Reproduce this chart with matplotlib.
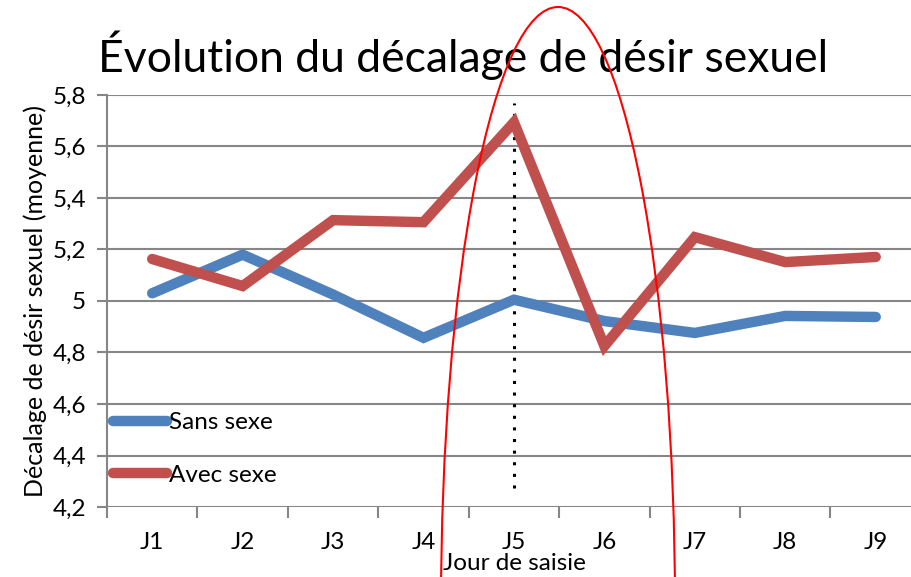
import matplotlib.pyplot as plt
from matplotlib.patches import Ellipse

# Données
jours = ['J1', 'J2', 'J3', 'J4', 'J5', 'J6', 'J7', 'J8', 'J9']
sans_sexe = [5.03, 5.18, 5.025, 4.857, 5.005, 4.922, 4.876, 4.942, 4.938]
avec_sexe = [5.163, 5.058, 5.314, 5.306, 5.694, 4.825, 5.248, 5.151, 5.171]
y_ticks = [4.2, 4.4, 4.6, 4.8, 5.0, 5.2, 5.4, 5.6, 5.8]
y_labels = ['4,2', '4,4', '4,6', '4,8', '5', '5,2', '5,4', '5,6', '5,8']
jour_repere = 5
repere_bas, repere_haut = 4.275, 5.77

plt.rcParams['font.family'] = ['Lato', 'DejaVu Sans']

bleu = '#4F81BD'
rouge = '#C0504D'
gris = '#868686'
taille = 17.5

fig = plt.figure(figsize=(9.12, 5.77), dpi=100)
ax = fig.add_axes([0.1173, 0.1213, 0.8925, 0.7141])

x = list(range(1, len(jours) + 1))
ax.plot(x, sans_sexe, color=bleu, lw=7.5, solid_capstyle='round',
        solid_joinstyle='miter', label='Sans sexe', zorder=3)
ax.plot(x, avec_sexe, color=rouge, lw=7.5, solid_capstyle='round',
        solid_joinstyle='miter', label='Avec sexe', zorder=3)

# Repère vertical pointillé sur J5
ax.plot([jour_repere, jour_repere], [repere_bas, repere_haut], color='black',
        lw=2.2, linestyle=(0, (1, 2.8)), zorder=2)

ax.set_xlim(0.5, len(jours) + 0.5)
ax.set_ylim(4.2, 5.8)
ax.set_yticks(y_ticks)
ax.set_yticklabels(y_labels, fontsize=taille)
ax.set_xticks(x)
ax.set_xticklabels(jours, fontsize=taille)
ax.set_xticks([i + 0.5 for i in range(len(jours))], minor=True)
ax.tick_params(axis='x', which='major', length=0, pad=18)
ax.tick_params(axis='x', which='minor', length=8, width=1.5, color=gris)
ax.tick_params(axis='y', length=7, width=1.5, color=gris, pad=8)
ax.grid(axis='y', color=gris, lw=1.5, zorder=1)
for side in ['top', 'right', 'bottom']:
    ax.spines[side].set_visible(False)
ax.spines['left'].set_color(gris)
ax.spines['left'].set_linewidth(1.5)

ax.set_xlabel('Jour de saisie', fontsize=taille, labelpad=0)
ax.set_ylabel('Décalage de désir sexuel (moyenne)', fontsize=18, labelpad=4)

fig.text(0.107, 1 - 72 / 577, 'Évolution du décalage de désir sexuel',
         fontsize=32, ha='left', va='baseline')

leg = ax.legend(loc='lower left', bbox_to_anchor=(-0.004, 0.028), frameon=False,
                fontsize=taille, handlelength=2.2, handletextpad=0.1,
                labelspacing=1.3, borderaxespad=0)

# Ellipse rouge tracée à la main par-dessus
ell = Ellipse((5.58, -0.30), 2.34, 12.0, transform=fig.dpi_scale_trans,
              fill=False, edgecolor='red', lw=1.5, zorder=10)
fig.add_artist(ell)

fig.savefig('out.png', dpi=100)
